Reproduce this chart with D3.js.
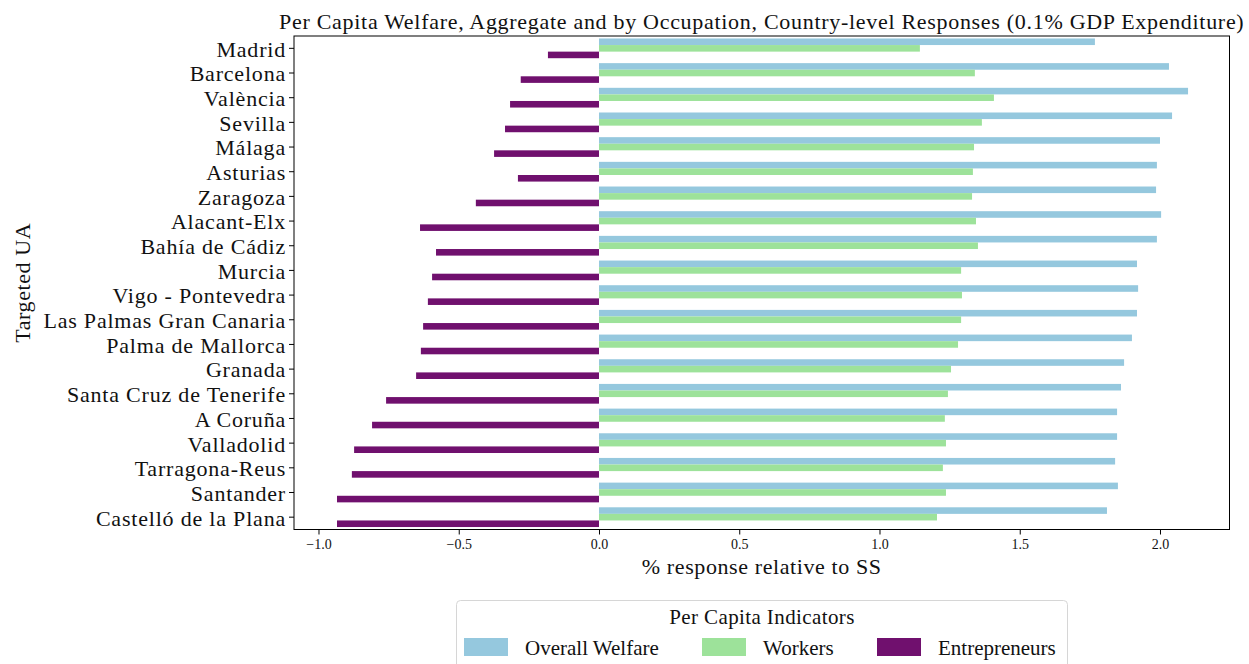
<!DOCTYPE html>
<html>
<head>
<meta charset="utf-8">
<script src="https://cdn.jsdelivr.net/npm/d3@7"></script>
<style>
  html, body { margin: 0; padding: 0; background: #fff; }
  svg { display: block; font-family: "Liberation Serif", "Times New Roman", serif; }
</style>
</head>
<body>
<svg id="chart" width="1249" height="664"></svg>
<script>
// Urban areas, top to bottom
const categories = [
  "Madrid", "Barcelona", "València", "Sevilla", "Málaga", "Asturias", "Zaragoza",
  "Alacant-Elx", "Bahía de Cádiz", "Murcia", "Vigo - Pontevedra",
  "Las Palmas Gran Canaria", "Palma de Mallorca", "Granada",
  "Santa Cruz de Tenerife", "A Coruña", "Valladolid", "Tarragona-Reus",
  "Santander", "Castelló de la Plana"
];

// % response relative to SS, per capita
const overallWelfare = [
  1.768, 2.032, 2.100, 2.043, 2.000, 1.989, 1.986, 2.004, 1.989, 1.918,
  1.922, 1.918, 1.900, 1.872, 1.861, 1.847, 1.847, 1.840, 1.850, 1.811
];
const workers = [
  1.144, 1.340, 1.408, 1.365, 1.337, 1.333, 1.330, 1.344, 1.351, 1.291,
  1.294, 1.291, 1.280, 1.255, 1.244, 1.233, 1.237, 1.226, 1.237, 1.205
];
const entrepreneurs = [
  -0.182, -0.279, -0.317, -0.335, -0.374, -0.289, -0.439, -0.638, -0.581, -0.595,
  -0.610, -0.627, -0.635, -0.652, -0.759, -0.809, -0.873, -0.881, -0.934, -0.934
];

const seriesNames = ["Overall Welfare", "Workers", "Entrepreneurs"];
const seriesColors = ["#95c8de", "#9de29a", "#70106e"];
const xTicks = [-1.0, -0.5, 0.0, 0.5, 1.0, 1.5, 2.0];

const titleText = "Per Capita Welfare, Aggregate and by Occupation, Country-level Responses (0.1% GDP Expenditure)";
const xLabel = "% response relative to SS";
const yLabel = "Targeted UA";
const legendTitle = "Per Capita Indicators";

const seriesValues = [overallWelfare, workers, entrepreneurs];
const rows = categories.map((c, i) => ({
  name: c,
  values: seriesNames.map((s, k) => ({ series: s, value: seriesValues[k][i], k }))
}));

const serif = "Liberation Serif, Times New Roman, serif";
const svg = d3.select("#chart");
const plot = { left: 294, right: 1229.5, top: 36, bottom: 529.5 };

const x = d3.scaleLinear().domain([-1.0873, 2.2478]).range([plot.left, plot.right]);
const y = d3.scaleBand().domain(categories).range([plot.top, plot.bottom]).padding(0);
const inner = d3.scaleBand().domain(seriesNames)
  .range([y.bandwidth() * 0.1, y.bandwidth() * 0.9]).padding(0);
const color = d3.scaleOrdinal().domain(seriesNames).range(seriesColors);

// bars
const groups = svg.append("g").selectAll("g").data(rows).join("g")
  .attr("transform", d => `translate(0,${y(d.name)})`);
groups.selectAll("rect").data(d => d.values).join("rect")
  .attr("x", d => x(Math.min(0, d.value)))
  .attr("width", d => Math.abs(x(d.value) - x(0)))
  .attr("y", d => inner(d.series))
  .attr("height", inner.bandwidth())
  .attr("fill", d => color(d.series));

// frame
svg.append("rect")
  .attr("x", plot.left).attr("y", plot.top)
  .attr("width", plot.right - plot.left).attr("height", plot.bottom - plot.top)
  .attr("fill", "none").attr("stroke", "#000").attr("stroke-width", 1);

// x axis
const xAxis = svg.append("g")
  .attr("transform", `translate(0,${plot.bottom})`)
  .call(d3.axisBottom(x).tickValues(xTicks).tickFormat(d3.format(".1f")).tickSize(5).tickSizeOuter(0));
xAxis.select(".domain").remove();
xAxis.selectAll("text").attr("font-size", 14).attr("font-family", serif).attr("fill", "#111").attr("dy", "0.85em");

// y axis
const yAxis = svg.append("g")
  .attr("transform", `translate(${plot.left},0)`)
  .call(d3.axisLeft(y).tickSize(5).tickSizeOuter(0).tickPadding(3));
yAxis.select(".domain").remove();
yAxis.selectAll("text").attr("font-size", 22).attr("font-family", serif)
  .attr("letter-spacing", 0.8).attr("dy", "0.38em").attr("fill", "#111");

// title and axis labels
const cx = (plot.left + plot.right) / 2;
svg.append("text").attr("x", cx).attr("y", 29).attr("text-anchor", "middle")
  .attr("font-size", 22).attr("letter-spacing", 0.7).attr("fill", "#111").text(titleText);
svg.append("text").attr("x", cx).attr("y", 574).attr("text-anchor", "middle")
  .attr("font-size", 22).attr("letter-spacing", 0.6).attr("fill", "#111").text(xLabel);
svg.append("text").attr("transform", `translate(30,${(plot.top + plot.bottom) / 2}) rotate(-90)`)
  .attr("text-anchor", "middle").attr("font-size", 22).attr("letter-spacing", 0.6)
  .attr("fill", "#111").text(yLabel);

// legend
const lg = svg.append("g");
lg.append("rect").attr("x", 456.5).attr("y", 600.5).attr("width", 611).attr("height", 80)
  .attr("rx", 4).attr("fill", "#fff").attr("stroke", "#d6d6d6").attr("stroke-width", 1);
lg.append("text").attr("x", 762).attr("y", 624).attr("text-anchor", "middle")
  .attr("font-size", 21).attr("letter-spacing", 0.4).attr("fill", "#111").text(legendTitle);
const legendX = [464, 702, 877];
seriesNames.forEach((s, k) => {
  lg.append("rect").attr("x", legendX[k]).attr("y", 638).attr("width", 44).attr("height", 18)
    .attr("fill", color(s));
  lg.append("text").attr("x", legendX[k] + 61).attr("y", 655)
    .attr("font-size", 21).attr("fill", "#111").text(s);
});
</script>
</body>
</html>
